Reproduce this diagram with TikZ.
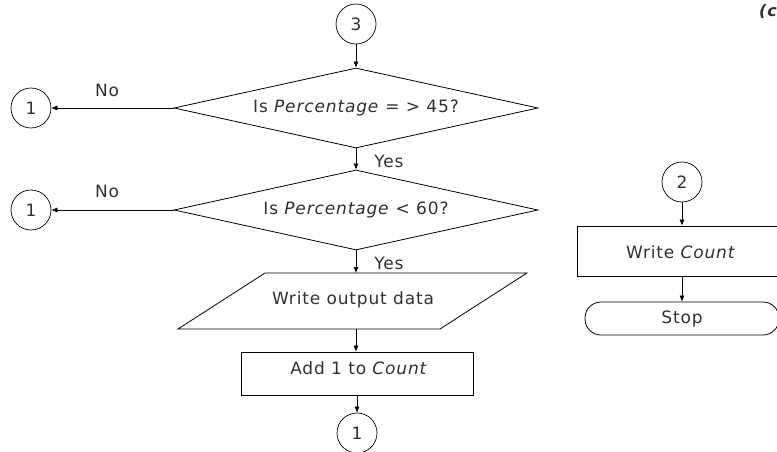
\documentclass[tikz,border=0pt]{standalone}
\usepackage{fontspec}
\setmainfont[LetterSpace=5]{DejaVu Sans}
\usetikzlibrary{shapes.geometric,arrows.meta}
\definecolor{txt}{HTML}{303030}
\begin{document}
\begin{tikzpicture}[x=1pt,y=-1pt,
  every node/.style={font=\fontsize{17}{20}\selectfont, text=txt},
  conn/.style={circle, draw, minimum size=40pt, inner sep=0pt, line width=0.7pt},
  dec/.style={diamond, draw, aspect=4.55, minimum width=364pt, minimum height=80pt, inner sep=0pt, line width=0.8pt},
  proc/.style={rectangle, draw, line width=0.8pt, inner sep=0pt},
  term/.style={rectangle, rounded corners=16pt, draw, line width=0.8pt, inner sep=0pt},
  arr/.style={-{Latex[length=6pt,width=5pt]}, line width=0.6pt}
]
\useasboundingbox (0,0) rectangle (777,452);
\clip (0,0) rectangle (777,452);

% left column
\node[conn] (c3) at (356,24) {3};
\node[dec] (d1) at (356,108) {Is \textit{Percentage} = > 45?};
\node[conn] (c1a) at (31,108) {1};
\node (no1) at (107,90) {No};
\node[dec] (d2) at (356,210) {Is \textit{Percentage} < 60?};
\node[conn] (c1b) at (31,210) {1};
\node (no2) at (107,191) {No};
\node (yes1) at (389,161) {Yes};
\node (yes2) at (389,263) {Yes};

% parallelogram
\coordinate (p1) at (265,273);
\coordinate (p2) at (527,273);
\coordinate (p3) at (440,329);
\coordinate (p4) at (178,329);
\draw[line width=0.8pt] (p1) -- (p2) -- (p3) -- (p4) -- cycle;
\node (wod) at (353,300) {Write output data};
\coordinate (ptop) at (356,273);
\coordinate (pbot) at (356,329);

\node[proc, minimum width=232pt, minimum height=43pt] (add) at (357,373.5) {};
\node at (359,368) {Add 1 to \textit{Count}};
\node[conn] (c1c) at (357,433) {1};

% right column
\node[conn] (c2) at (682,182) {2};
\node[proc, minimum width=210pt, minimum height=50pt] (wc) at (682,251) {};
\node at (681,252) {Write \textit{Count}};
\node[term, minimum width=194pt, minimum height=33pt] (stop) at (682,318.5) {Stop};

\node[anchor=east, inner sep=0pt, font=\fontsize{16}{20}\selectfont\bfseries\itshape] (cont) at (777,11) {(c};

% connectors
\draw[arr] (c3) -- (d1.north);
\draw[arr] (d1.west) -- (c1a);
\draw[arr] (d1.south) -- (d2.north);
\draw[arr] (d2.west) -- (c1b);
\draw[arr] (d2.south) -- (ptop);
\draw[arr] (pbot) -- (add.north -| pbot);
\draw[arr] (add) -- (c1c);
\draw[arr] (c2) -- (wc);
\draw[arr] (wc) -- (stop);
\end{tikzpicture}
\end{document}
